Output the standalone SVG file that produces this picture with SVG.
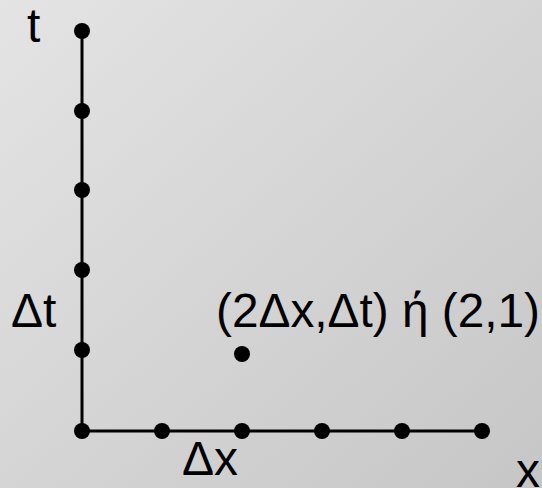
<svg xmlns="http://www.w3.org/2000/svg" width="542" height="488" viewBox="0 0 542 488">
<defs>
<linearGradient id="bg" x1="0" y1="0" x2="1" y2="1">
<stop offset="0" stop-color="#e4e4e4"/>
<stop offset="1" stop-color="#c6c6c6"/>
</linearGradient>
</defs>
<style>
.lbl{font-family:"Liberation Sans",Arial,sans-serif;font-size:48px;fill:#000}
.ax{stroke:#000;stroke-width:3;fill:none}
.dot{fill:#000}
</style>
<rect width="542" height="488" fill="url(#bg)"/>
<g id="connectors">
<line class="ax" x1="82" y1="31" x2="82" y2="431"/>
<line class="ax" x1="82" y1="431" x2="482" y2="431"/>
</g>
<g id="t-axis">
<circle class="dot" cx="82" cy="31" r="8"/>
<circle class="dot" cx="82" cy="111" r="8"/>
<circle class="dot" cx="82" cy="190" r="8"/>
<circle class="dot" cx="82" cy="270" r="8"/>
<circle class="dot" cx="82" cy="350" r="8"/>
</g>
<g id="x-axis">
<circle class="dot" cx="82" cy="431" r="8"/>
<circle class="dot" cx="162" cy="431" r="8"/>
<circle class="dot" cx="242" cy="431" r="8"/>
<circle class="dot" cx="322" cy="431" r="8"/>
<circle class="dot" cx="402" cy="431" r="8"/>
<circle class="dot" cx="482" cy="431" r="8"/>
</g>
<g id="point">
<circle class="dot" cx="242" cy="354" r="8"/>
</g>
<g id="labels">
<text class="lbl" x="27" y="42">t</text>
<text class="lbl" x="11" y="327">Δt</text>
<text class="lbl" x="216" y="327" textLength="324" lengthAdjust="spacingAndGlyphs">(2Δx,Δt) ή (2,1)</text>
<text class="lbl" x="182" y="475">Δx</text>
<text class="lbl" x="516" y="487">x</text>
</g>
</svg>
